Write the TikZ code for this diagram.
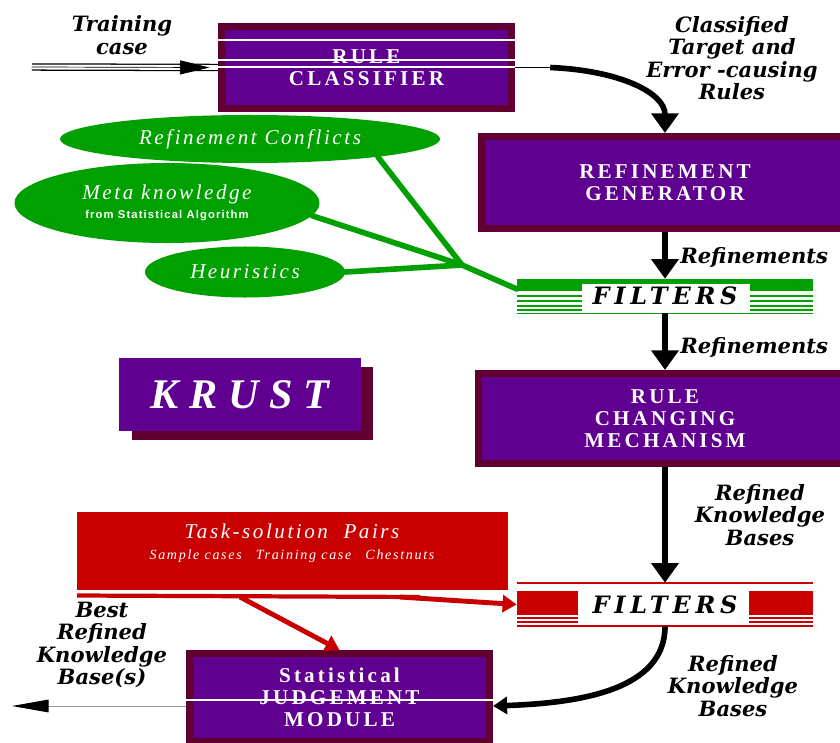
\documentclass[tikz,border=0pt]{standalone}
\usepackage{fontspec}
\setmainfont{Liberation Serif}
\newfontfamily\boxfont[LetterSpace=15]{Liberation Serif}
\newfontfamily\softfont[LetterSpace=12]{Liberation Serif}
\newfontfamily\titlefont[LetterSpace=25]{Liberation Serif}
\newfontfamily\notefont{DejaVu Serif}
\newfontfamily\filtfont[LetterSpace=20]{DejaVu Serif}
\newfontfamily\smallfont[LetterSpace=10]{Liberation Sans}
\usepackage{tikz}
\usetikzlibrary{shapes,arrows,arrows.meta,positioning,shadows}

\definecolor{krpurple}{RGB}{96,0,144}
\definecolor{krmaroon}{RGB}{96,0,48}
\definecolor{krgreen}{RGB}{0,160,0}
\definecolor{krred}{RGB}{200,0,0}

\tikzset{
	module/.style={draw=krmaroon, fill=krpurple, line width=5pt, text=white, align=center, inner sep=0pt,
		font={\boxfont\bfseries\fontsize{15}{15.5}\selectfont}},
	source/.style={ellipse, fill=krgreen, text=white, align=center, inner sep=0pt,
		font={\softfont\itshape\fontsize{15}{15}\selectfont}},
	note/.style={align=center, inner sep=0pt, font={\notefont\bfseries\itshape\fontsize{15}{16}\selectfont}},
	filterbox/.style={minimum width=7.4cm, inner sep=0pt, font={\filtfont\bfseries\itshape\fontsize{17}{18}\selectfont}},
	link/.style={line width=4pt, -{Triangle[length=14pt,width=19pt]}},
	redlink/.style={krred, line width=3.5pt, -{Triangle[length=10pt,width=12pt]}},
	greenlink/.style={krgreen, line width=4pt, line join=round, line cap=round}
}

\begin{document}
\begin{tikzpicture}[x=0.025cm, y=-0.025cm]
				\useasboundingbox (0,0) rectangle (840,742);
				\clip (0,0) rectangle (840,742);

				\node (rc)   [module, minimum width=7.25cm, minimum height=2.05cm]  at (366.5,67.5) {RULE\\CLASSIFIER};
				\node (rg)   [module, minimum width=9.175cm, minimum height=2.3cm]  at (665,182.5)  {REFINEMENT\\GENERATOR};
				\node (rcm)  [module, minimum width=9.325cm, minimum height=2.25cm] at (665,418.5)  {RULE\\CHANGING\\MECHANISM};
				\node (sj)   [module, minimum width=7.5cm, minimum height=2.2cm]    at (339.5,697.5) {Statistical\\JUDGEMENT\\MODULE};

				\node (krust) [fill=krpurple, minimum width=6.025cm, minimum height=1.825cm, text=white,
					drop shadow={shadow xshift=9.2pt, shadow yshift=-6.4pt, fill=krmaroon, opacity=1},
					font={\titlefont\bfseries\itshape\fontsize{30}{32}\selectfont}] at (240,394.5) {KRUST};

				\node (conf) [source, minimum width=9.5cm, minimum height=1.2cm]   at (250,139) {Refinement Conflicts};
				\node (meta) [source, minimum width=7.625cm, minimum height=2cm]   at (167,203)
					{Meta knowledge\\[-1pt]{\smallfont\bfseries\upshape\fontsize{8}{9}\selectfont from Statistical Algorithm}};
				\node (heur) [source, minimum width=5cm, minimum height=1.275cm]   at (245,272) {Heuristics};

				\fill [krgreen] (517,279) rectangle (813,291);
				\foreach \y in {295,300,305,309} {
					\fill [krgreen] (517,\y) rectangle (582,\y+2);
					\fill [krgreen] (750,\y) rectangle (813,\y+2);
				}
				\fill [white] (582,284) rectangle (750,313);
				\draw [krgreen] (517,313) -- (813,313);
				\node (filtg) [filterbox, minimum height=0.85cm] at (665,296) {\raisebox{-3pt}{FILTERS}};

				\draw [krred, line width=1.2pt] (517,583) -- (813,583);
				\fill [krred] (517,591) rectangle (578,615);
				\fill [krred] (749,591) rectangle (813,615);
				\foreach \y in {618,622} {
					\draw [krred, line width=0.8pt] (517,\y) -- (578,\y);
					\draw [krred, line width=0.8pt] (749,\y) -- (813,\y);
				}
				\draw [krred, line width=1pt] (517,626) -- (813,626);
				\node (filtr) [filterbox, minimum height=1.075cm] at (665,604.5) {FILTERS};

				\node (tsp) [fill=krred, minimum width=10.775cm, minimum height=1.95cm, inner sep=0pt] at (292.5,551) {};
				\node (tsptext) [text=white, align=center, font={\softfont\itshape\fontsize{15}{15}\selectfont}] at (292,543)
					{Task-solution\ \ Pairs\\{\fontsize{10}{11}\selectfont Sample cases\quad Training case\quad Chestnuts}};

				\node (trlbl)   [note] at (122,35)  {Training\\case};
				\node (cllbl)   [note] at (732,58)  {Classified\\Target and\\Error -causing\\Rules};
				\node (rflbla)  [note, anchor=west] at (680,257) {Refinements};
				\node (rflblb)  [note, anchor=west] at (680,347) {Refinements};
				\node (kblbla)  [note] at (760,515) {Refined\\Knowledge\\Bases};
				\node (kblblb)  [note] at (733,686) {Refined\\Knowledge\\Bases};
				\node (bestlbl) [note] at (102,645) {Best\\Refined\\Knowledge\\Base(s)};

				\coordinate (train)  at (32,67);
				\coordinate (gmerge) at (462,265);
				\coordinate (tsa)    at (240,597);
				\coordinate (tsb)    at (400,597);
				\coordinate (kbin)   at (493,706);
				\coordinate (kbout)  at (186,706);
				\coordinate (bestend) at (12,706);

				\draw [double, double distance=3.5pt, line width=0.9pt] (train) -- (rc.west);
				\draw [line width=0.5pt, -{Triangle[length=21pt,width=10pt]}] (train) -- ([xshift=-6pt]rc.west);
				\draw [white, line width=0.8pt] (218,40) -- (515,40);
				\draw [white, line width=0.8pt] (218,60) -- (515,60);
				\draw [white, line width=0.8pt] (218,67) -- (515,67);
				\draw [thick] (rc.east) -- ++(48,0);
				\draw [link] ([xshift=25pt]rc.east) .. controls +(70,3) and +(0,-40) .. (rg.north);

				\draw [link] (rg) -- (filtg);
				\draw [link] (filtg) -- (rcm);
				\draw [link] (rcm) -- (filtr);
				\draw [line width=4pt, -{Triangle[length=10pt,width=12pt]}] (filtr.south) .. controls (665,690) and (580,703) .. (kbin);

				\draw [white, line width=1pt] (186,700) -- (493,700);
				\draw [black!40, line width=0.7pt, -{Triangle[length=26pt,width=9pt,color=black]}] (kbout) -- (bestend);

				\draw [greenlink] (conf.-8) -- (gmerge) -- ([yshift=5pt]filtg.west);
				\draw [greenlink] (meta.-5) -- (gmerge);
				\draw [greenlink] (heur.east) -- (gmerge);

				\draw [krred, line width=3pt] (77,595.5) -- (420,597);
				\draw [redlink] (tsa) -- (sj.north);
				\draw [redlink] (tsb) -- (filtr.west);

\end{tikzpicture}
\end{document}
